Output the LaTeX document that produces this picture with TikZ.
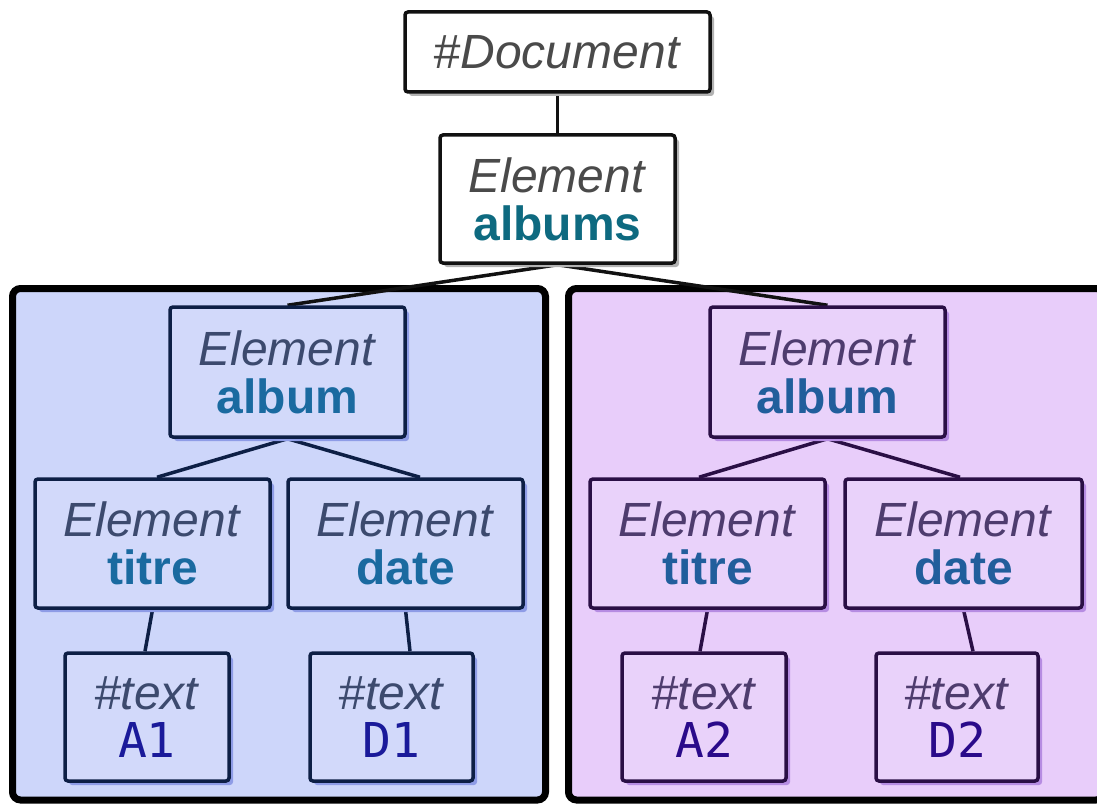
\documentclass[tikz,border=0pt]{standalone}
\usepackage{fontspec}
\setmainfont{Liberation Sans}
\newfontfamily\monof{DejaVu Sans Mono}
\usetikzlibrary{shadows}

\definecolor{inkdark}{HTML}{111111}
\definecolor{greytext}{HTML}{4A4A4A}
\definecolor{tealname}{HTML}{0E6A80}
\definecolor{bluepanel}{HTML}{CDD6FA}
\definecolor{bluebox}{HTML}{D2D9FA}
\definecolor{blueline}{HTML}{0D1F45}
\definecolor{blueital}{HTML}{3C4A6E}
\definecolor{bluename}{HTML}{1A6AA0}
\definecolor{bluemono}{HTML}{1A1A9A}
\definecolor{blueshadow}{HTML}{8E9CE6}
\definecolor{purpanel}{HTML}{E8CDFA}
\definecolor{purbox}{HTML}{E9D2FA}
\definecolor{purline}{HTML}{2A0F45}
\definecolor{purital}{HTML}{4E3C6E}
\definecolor{purname}{HTML}{215E9C}
\definecolor{purmono}{HTML}{2A0A8A}
\definecolor{purshadow}{HTML}{B68CE2}

\pgfdeclarelayer{panels}
\pgfdeclarelayer{links}
\pgfsetlayers{panels,links,main}

\tikzset{
  treebox/.style={draw, line width=3.5pt, rounded corners=3pt, align=center,
    inner sep=0pt, font=\fontsize{48}{48}\selectfont},
  plainbox/.style={treebox, draw=inkdark, fill=white,
    drop shadow={shadow xshift=4pt, shadow yshift=-4pt, fill=black!30, opacity=1}},
  bluenode/.style={treebox, draw=blueline, fill=bluebox,
    drop shadow={shadow xshift=4pt, shadow yshift=-4pt, fill=blueshadow, opacity=1}},
  purnode/.style={treebox, draw=purline, fill=purbox,
    drop shadow={shadow xshift=4pt, shadow yshift=-4pt, fill=purshadow, opacity=1}},
  elemsize/.style={minimum width=235pt, minimum height=129pt},
  textsize/.style={minimum width=164pt, minimum height=128pt},
  panel/.style={line width=7pt, rounded corners=8pt, draw=black},
  plainlink/.style={line width=3.5pt, draw=inkdark},
  bluelink/.style={line width=3.5pt, draw=blueline},
  purlink/.style={line width=3.5pt, draw=purline},
}

\begin{document}
\begin{tikzpicture}[x=1pt, y=-1pt]
\useasboundingbox (0,0) rectangle (1097,805);

% root of the tree
\node[plainbox, minimum width=305pt, minimum height=80pt] (doc) at (557.5,52)
  {\color{greytext}\textit{\#Document}};
\node[plainbox, minimum width=235pt, minimum height=128pt] (albums) at (557.5,199)
  {\color{greytext}\textit{Element}\\\color{tealname}\textbf{albums}};

% first album
\node[bluenode, elemsize, minimum height=130pt] (balbum) at (287.5,372)
  {\color{blueital}\textit{Element}\\\color{bluename}\textbf{album}};
\node[bluenode, elemsize] (btitre) at (152.5,543.5)
  {\color{blueital}\textit{Element}\\\color{bluename}\textbf{titre}};
\node[bluenode, elemsize] (bdate) at (405.5,543.5)
  {\color{blueital}\textit{Element}\\\color{bluename}\textbf{date}};
\node[bluenode, textsize] (ba1) at (147,717)
  {\color{blueital}\textit{\#text}\\\color{bluemono}{\monof A1}};
\node[bluenode, textsize, minimum width=163pt] (bd1) at (391.5,717)
  {\color{blueital}\textit{\#text}\\\color{bluemono}{\monof D1}};

% second album
\node[purnode, elemsize, minimum height=130pt] (palbum) at (827.5,372)
  {\color{purital}\textit{Element}\\\color{purname}\textbf{album}};
\node[purnode, elemsize] (ptitre) at (707.5,543.5)
  {\color{purital}\textit{Element}\\\color{purname}\textbf{titre}};
\node[purnode, elemsize, minimum width=237pt] (pdate) at (963.5,543.5)
  {\color{purital}\textit{Element}\\\color{purname}\textbf{date}};
\node[purnode, textsize] (pa2) at (704,717)
  {\color{purital}\textit{\#text}\\\color{purmono}{\monof A2}};
\node[purnode, textsize, minimum width=162pt] (pd2) at (957,717)
  {\color{purital}\textit{\#text}\\\color{purmono}{\monof D2}};

% album groups
\begin{pgfonlayer}{panels}
  \draw[panel, fill=bluepanel] (12.5,288.5) rectangle (545.5,800);
  \draw[panel, fill=purpanel] (568.5,288.5) rectangle (1104,800);
\end{pgfonlayer}

% tree edges
\begin{pgfonlayer}{links}
  \draw[plainlink] (doc.south) -- (albums.north);
  \draw[plainlink] (albums.south) -- (balbum.north);
  \draw[plainlink] (albums.south) -- (palbum.north);

  \draw[bluelink] (balbum.south) -- ([xshift=4.5pt]btitre.north);
  \draw[bluelink] (balbum.south) -- ([xshift=14.5pt]bdate.north);
  \draw[bluelink] (btitre.south) -- ([xshift=-2pt]ba1.north);
  \draw[bluelink] (bdate.south) -- ([xshift=18.5pt]bd1.north);

  \draw[purlink] (palbum.south) -- ([xshift=-8.5pt]ptitre.north);
  \draw[purlink] (palbum.south) -- ([xshift=-3.5pt]pdate.north);
  \draw[purlink] (ptitre.south) -- ([xshift=-4pt]pa2.north);
  \draw[purlink] (pdate.south) -- ([xshift=16pt]pd2.north);
\end{pgfonlayer}
\end{tikzpicture}
\end{document}
